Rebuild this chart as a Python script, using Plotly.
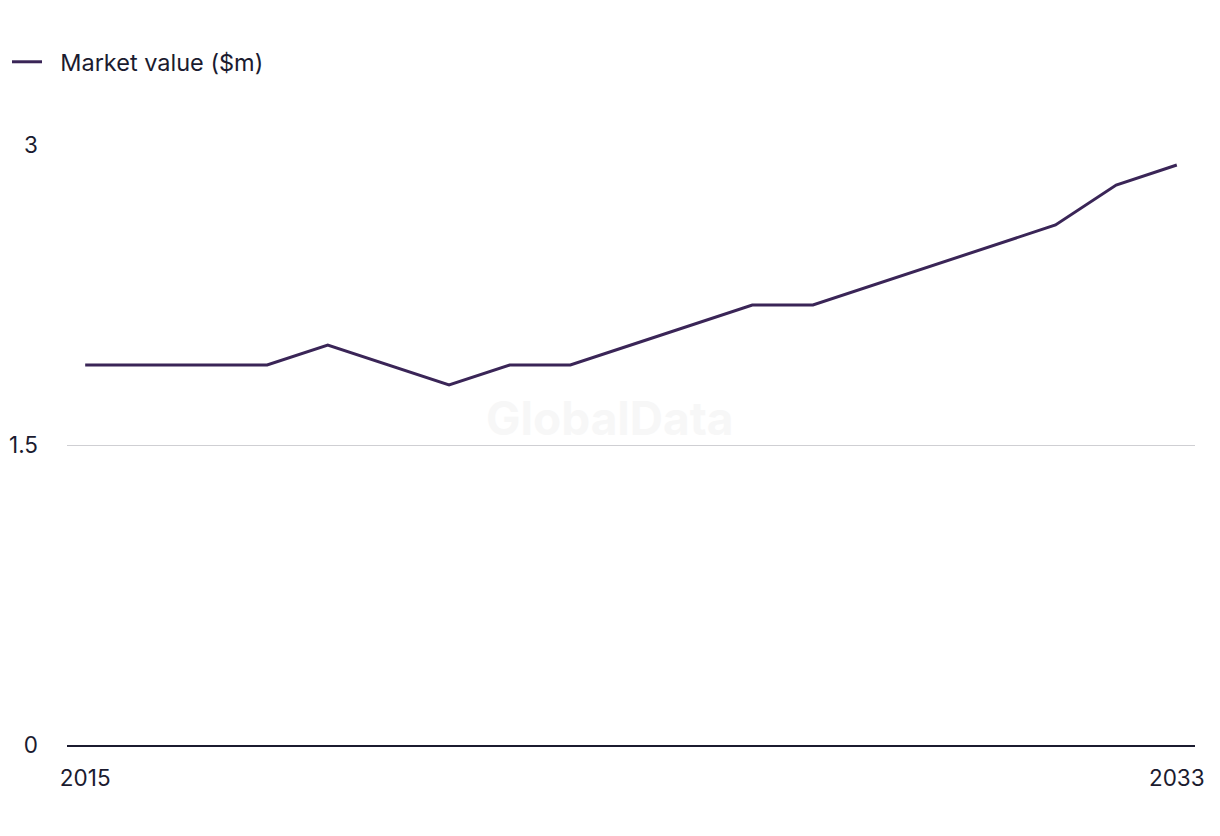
import plotly.graph_objects as go

years = list(range(2015, 2034))
market_value = [1.9, 1.9, 1.9, 1.9, 2.0, 1.9, 1.8, 1.9, 1.9, 2.0,
                2.1, 2.2, 2.2, 2.3, 2.4, 2.5, 2.6, 2.8, 2.9]
series_name = "Market value ($m)"
y_ticks = [0, 1.5, 3]
y_tick_labels = ["0", "1.5", "3"]
x_ticks = [2015, 2033]

FONT = "Inter, Roboto, Arial, sans-serif"
TXT = "#1b1b2f"

fig = go.Figure()
fig.add_trace(go.Scatter(
    x=years, y=market_value, mode="lines", name="\u00a0\u00a0" + series_name,
    line=dict(color="#3a2557", width=3),
))

fig.update_layout(
    width=1220, height=836,
    margin=dict(l=67, r=25, t=145, b=91),
    paper_bgcolor="white", plot_bgcolor="white",
    font=dict(family=FONT, size=22, color=TXT),
    showlegend=True,
    legend=dict(
        orientation="h", xref="container", yref="container",
        x=7 / 1220, y=1 - 62 / 836, xanchor="left", yanchor="middle",
        font=dict(size=23.5, color=TXT), itemwidth=30,
    ),
    annotations=[dict(
        text="<b>GlobalData</b>", xref="paper", yref="paper",
        x=0.481, y=0.545, showarrow=False,
        font=dict(size=46, color="#f7f7f7", family=FONT),
    )],
)

fig.update_xaxes(
    range=[2014.7, 2033.3], tickvals=x_ticks, ticktext=[str(v) for v in x_ticks],
    showgrid=False, zeroline=False, showline=True, linecolor="#1b1b2f", linewidth=2,
    ticks="", ticklabelstandoff=12, tickfont=dict(size=22.5, color=TXT), automargin=False,
)
fig.update_yaxes(
    range=[0, 3], tickvals=y_ticks, ticktext=y_tick_labels,
    showgrid=True, gridcolor="#cfcfd3", gridwidth=1, zeroline=False,
    showline=False, ticks="", ticklabelstandoff=28, tickfont=dict(size=22.5, color=TXT),
    automargin=False,
)

fig.write_html("out.html")
